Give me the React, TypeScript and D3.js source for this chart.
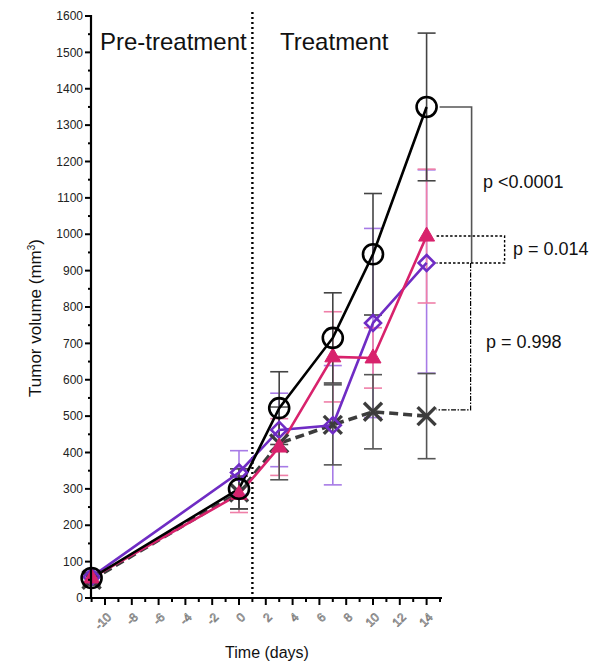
import React from "react";
import * as d3 from "d3";

const days = [-11, 0, 3, 7, 10, 14];
const circleMean = [55, 300, 522, 715, 945, 1350];
const circleErr = [15, 55, 100, 124, 167, 203];
const triangleMean = [55, 285, 415, 663, 660, 995];
const triangleErr = [15, 50, 78, 124, 83, 184];
const diamondMean = [58, 345, 462, 475, 756, 921];
const diamondErrHi = [15, 60, 101, 164, 260, 256];
const diamondErrLo = [15, 60, 101, 164, 260, 303];
const crossMean = [50, 290, 425, 476, 512, 500];
const crossErr = [15, 45, 100, 110, 102, 117];

const xTickLabels = [-10, -8, -6, -4, -2, 0, 2, 4, 6, 8, 10, 12, 14];
const yTickLabels = [0, 100, 200, 300, 400, 500, 600, 700, 800, 900, 1000, 1100, 1200, 1300, 1400, 1500, 1600];
const treatmentStartDay = 1;
const pValues = ["p <0.0001", "p = 0.014", "p = 0.998"];

const W = 595;
const H = 667;
const FONT = "Liberation Sans, Arial, sans-serif";

export default function App() {
  const x = d3.scaleLinear().domain([-11, 15]).range([91.6, 440]);
  const y = d3.scaleLinear().domain([0, 1600]).range([598, 16]);

  const line = (vals: number[]) =>
    d3.line<number>().x((_, i) => x(days[i])).y((v) => y(v))(vals) || "";

  const errBars = (mean: number[], errHi: number[], errLo: number[], color: string, key: string) =>
    mean.map((m, i) => {
      const cx = x(days[i]);
      const hi = y(m + errHi[i]);
      const lo = y(m - errLo[i]);
      return (
        <g key={key + i} stroke={color} strokeWidth={1.6}>
          <line x1={cx} x2={cx} y1={hi} y2={lo} />
          <line x1={cx - 9} x2={cx + 9} y1={hi} y2={hi} />
          <line x1={cx - 9} x2={cx + 9} y1={lo} y2={lo} />
        </g>
      );
    });

  const black = "#000";
  const pink = "#d8226c";
  const purple = "#6f2cc4";
  const gray = "#3c3c3c";

  const xMinor = d3.range(-11, 16, 1);
  const yMinor = d3.range(0, 1601, 50);

  const x14 = x(14);
  const yC = y(circleMean[5]);
  const yT = y(triangleMean[5]);
  const yD = y(diamondMean[5]);
  const yX = y(crossMean[5] + 17);

  return (
    <svg width={W} height={H} style={{ position: "absolute", left: 0, top: 0, background: "#fff" }} fontFamily={FONT}>
      {/* dotted vertical separator */}
      <line x1={x(treatmentStartDay)} x2={x(treatmentStartDay)} y1={12} y2={598} stroke="#000" strokeWidth={2.4} strokeDasharray="2,3" />
      <text x={100} y={50} fontSize={24} fill="#111">Pre-treatment</text>
      <text x={280} y={50} fontSize={24} fill="#111">Treatment</text>

      {/* error bars */}
      {errBars(diamondMean, diamondErrHi, diamondErrLo, "#a77be6", "d")}
      {errBars(triangleMean, triangleErr, triangleErr, "#ef7fa8", "t")}
      {errBars(crossMean, crossErr, crossErr, "#555", "x")}
      {errBars(circleMean, circleErr, circleErr, "#444", "c")}

      {/* lines */}
      <path d={line(crossMean)} fill="none" stroke={gray} strokeWidth={3.6} strokeDasharray="9,5" />
      <path d={line(diamondMean)} fill="none" stroke={purple} strokeWidth={2.6} />
      <path d={line(triangleMean)} fill="none" stroke={pink} strokeWidth={2.6} />
      <path d={line(circleMean)} fill="none" stroke={black} strokeWidth={2.6} />

      {/* markers */}
      {crossMean.map((v, i) => {
        const cx = x(days[i]);
        const cy = y(v);
        const s = 9;
        return (
          <g key={"xm" + i} stroke={gray} strokeWidth={3.4}>
            <line x1={cx - s} y1={cy - s} x2={cx + s} y2={cy + s} />
            <line x1={cx - s} y1={cy + s} x2={cx + s} y2={cy - s} />
          </g>
        );
      })}
      {diamondMean.map((v, i) => {
        const cx = x(days[i]);
        const cy = y(v);
        const s = 8;
        return (
          <path key={"dm" + i} d={`M${cx},${cy - s}L${cx + s},${cy}L${cx},${cy + s}L${cx - s},${cy}Z`} fill="none" stroke={purple} strokeWidth={2.6} />
        );
      })}
      {triangleMean.map((v, i) => {
        const cx = x(days[i]);
        const cy = y(v);
        return (
          <path key={"tm" + i} d={`M${cx},${cy - 9}L${cx + 8},${cy + 5}L${cx - 8},${cy + 5}Z`} fill={pink} stroke={pink} strokeWidth={1} />
        );
      })}
      {circleMean.map((v, i) => (
        <circle key={"cm" + i} cx={x(days[i])} cy={y(v)} r={10} fill="none" stroke={black} strokeWidth={2.6} />
      ))}

      {/* significance brackets */}
      <path d={`M${x14 + 13},${yC}H${x14 + 45}V${yD}`} fill="none" stroke="#555" strokeWidth={1.6} />
      <path d={`M${x14 + 10},${yT}H${x14 + 78}V${yD}H${x14 + 10}`} fill="none" stroke="#000" strokeWidth={1.4} strokeDasharray="2.5,2" />
      <path d={`M${x14 + 44},${yD}V${yX}H${x14 + 10}`} fill="none" stroke="#000" strokeWidth={1.2} strokeDasharray="5,1.5,1.5,1.5" />
      <text x={483} y={188} fontSize={18} fill="#111">{pValues[0]}</text>
      <text x={513} y={255} fontSize={18} fill="#111">{pValues[1]}</text>
      <text x={486} y={348} fontSize={18} fill="#111">{pValues[2]}</text>

      {/* y axis */}
      <line x1={91} x2={91} y1={y(1600) - 1} y2={599} stroke="#000" strokeWidth={2.2} />
      {yMinor.map((v) => (
        <line key={"ym" + v} x1={v % 100 === 0 ? 85 : 88} x2={91} y1={y(v)} y2={y(v)} stroke="#000" strokeWidth={2} />
      ))}
      {yTickLabels.map((v) => (
        <text key={"yl" + v} x={83} y={y(v)} dy="0.35em" textAnchor="end" fontSize={12} fill="#222">{v}</text>
      ))}

      {/* x axis */}
      <line x1={90} x2={442} y1={598} y2={598} stroke="#000" strokeWidth={2.2} />
      {xMinor.map((d) => (
        <line key={"xm" + d} x1={x(d)} x2={x(d)} y1={598} y2={d % 2 === 0 ? 605 : 602} stroke="#000" strokeWidth={2} />
      ))}
      {xTickLabels.map((d) => (
        <text key={"xl" + d} transform={`translate(${x(d) + 4},${615}) rotate(-45)`} textAnchor="end" dy="0.35em" fontSize={12} fill="#fff" stroke="#777" strokeWidth={0.7}>{d}</text>
      ))}

      <text x={267} y={658} textAnchor="middle" fontSize={16} fill="#111">Time (days)</text>
      <text transform={`translate(41,318) rotate(-90)`} textAnchor="middle" fontSize={17} fill="#111">
        Tumor volume (mm<tspan dy={-6} fontSize={10}>3</tspan><tspan dy={6}>)</tspan>
      </text>
    </svg>
  );
}
